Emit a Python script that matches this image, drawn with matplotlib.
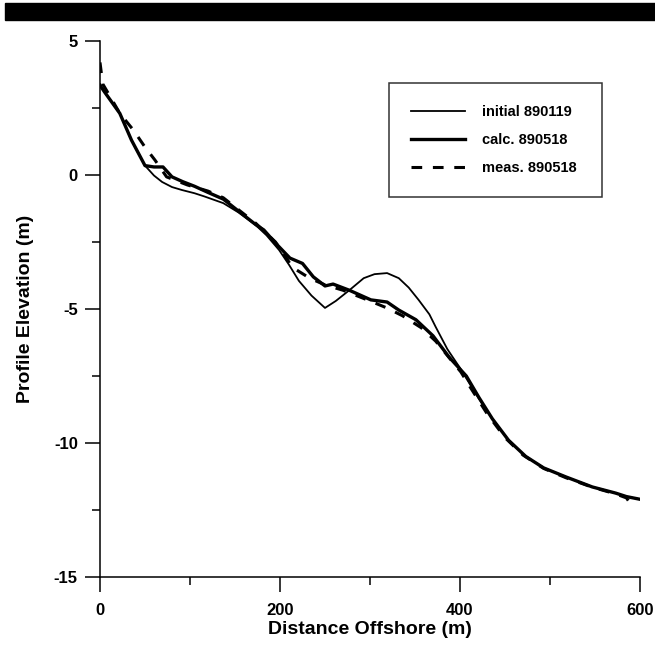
import matplotlib.pyplot as plt
from matplotlib.patches import Rectangle
from matplotlib.ticker import MultipleLocator

plt.rcParams['font.family'] = ['Liberation Sans', 'DejaVu Sans']
plt.rcParams['font.weight'] = 'bold'
plt.rcParams['axes.unicode_minus'] = False

# profil initial 890119
x_init = [0, 5, 22, 35, 50, 60, 69, 80, 91, 105, 116, 137, 154, 173, 185, 199,
          210, 221, 235, 250, 262, 277, 293, 305, 319, 332, 343, 354, 366, 373,
          386, 400, 410, 421, 436, 454, 473, 493, 518, 547, 573, 585, 600]
y_init = [3.35, 3.1, 2.3, 1.3, 0.35, -0.02, -0.26, -0.45, -0.56, -0.68, -0.8,
          -1.05, -1.4, -1.87, -2.25, -2.8, -3.35, -3.95, -4.5, -4.96, -4.7,
          -4.3, -3.85, -3.7, -3.66, -3.85, -4.2, -4.66, -5.2, -5.67, -6.5,
          -7.2, -7.75, -8.35, -9.1, -9.9, -10.5, -10.93, -11.27, -11.64,
          -11.87, -12.0, -12.1]

# profil calcule 890518
x_calc = [0, 5, 22, 35, 50, 60, 70, 80, 92, 105, 120, 137, 154, 173, 182, 195,
          211, 225, 237, 250, 259, 277, 301, 319, 332, 351, 370, 388, 407, 421,
          436, 454, 473, 493, 518, 547, 573, 585, 600]
y_calc = [3.35, 3.1, 2.3, 1.3, 0.35, 0.3, 0.3, -0.07, -0.25, -0.42, -0.65,
          -0.9, -1.35, -1.85, -2.05, -2.54, -3.1, -3.3, -3.8, -4.14, -4.07,
          -4.3, -4.66, -4.74, -5.04, -5.4, -6.0, -6.8, -7.5, -8.3, -9.1, -9.9,
          -10.5, -10.93, -11.27, -11.64, -11.87, -12.0, -12.1]

# profil mesure 890518
x_meas = [0, 3, 10, 22, 37, 50, 61, 74, 97, 120, 137, 154, 173, 195, 214, 233,
          250, 270, 300, 318, 336, 357, 373, 390, 401, 412, 430, 450, 470, 493,
          518, 547, 573, 585, 592]
y_meas = [4.2, 3.4, 3.0, 2.3, 1.68, 1.04, 0.56, -0.07, -0.37, -0.6, -0.85,
          -1.3, -1.8, -2.5, -3.45, -3.85, -4.1, -4.3, -4.7, -4.95, -5.25, -5.7,
          -6.2, -6.9, -7.35, -7.95, -8.9, -9.8, -10.45, -10.95, -11.3, -11.65,
          -11.9, -12.05, -12.4]

fig = plt.figure(figsize=(6.55, 6.47), dpi=100)
ax = fig.add_axes([100 / 655, 1 - 577 / 647, 540 / 655, 536 / 647])

# bandeau noir en haut (scan)
fig.patches.append(Rectangle((5 / 655, 1 - 20 / 647), 1, 17 / 647,
                             transform=fig.transFigure, color='black', zorder=0))

ax.plot(x_init, y_init, color='black', lw=1.3, label='initial 890119')
ax.plot(x_calc, y_calc, color='black', lw=2.4, label='calc. 890518')
ax.plot(x_meas, y_meas, color='black', lw=2.2, linestyle=(0, (3.5, 3.5)),
        label='meas. 890518')

ax.set_xlim(0, 600)
ax.set_ylim(-15, 5)
ax.xaxis.set_major_locator(MultipleLocator(200))
ax.xaxis.set_minor_locator(MultipleLocator(100))
ax.yaxis.set_major_locator(MultipleLocator(5))
ax.yaxis.set_minor_locator(MultipleLocator(2.5))

for s in ['top', 'right']:
    ax.spines[s].set_visible(False)
for s in ['left', 'bottom']:
    ax.spines[s].set_linewidth(1.1)

ax.tick_params(which='major', direction='out', length=11, width=1.1, labelsize=12)
ax.tick_params(which='minor', direction='out', length=6, width=1.1)
ax.tick_params(axis='x', which='major', pad=8)
ax.tick_params(axis='y', which='major', pad=5)

ax.set_xlabel('Distance Offshore (m)', fontsize=14, fontweight='bold', labelpad=2)
ax.set_ylabel('Profile Elevation (m)', fontsize=14, fontweight='bold', labelpad=14)

leg = ax.legend(loc='upper left', mode='expand',
                bbox_to_anchor=(389 / 655, 1 - 206 / 647, 213 / 655, 123 / 647),
                bbox_transform=fig.transFigure, fontsize=10.5, fancybox=False,
                frameon=True, edgecolor='black', handlelength=3.7,
                handletextpad=1.15, labelspacing=0.96, borderpad=1.5,
                borderaxespad=0)
leg.get_frame().set_linewidth(1.1)

plt.savefig('out.png', dpi=100)
